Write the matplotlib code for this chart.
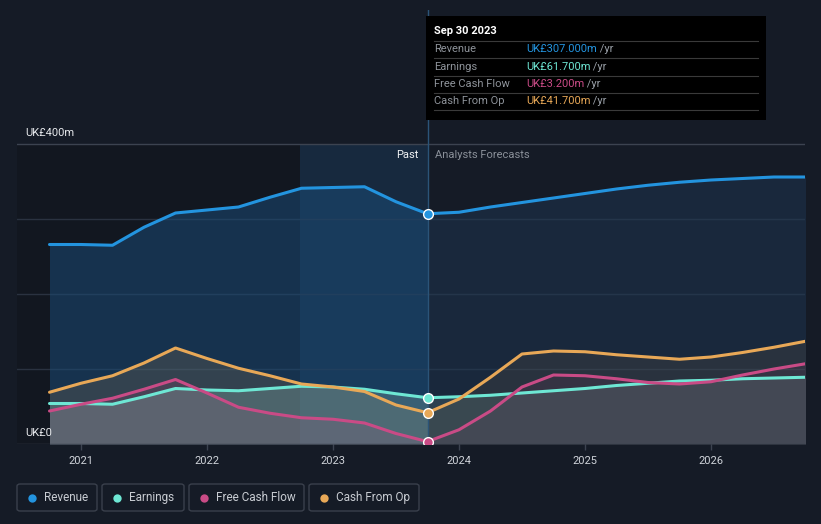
import matplotlib.pyplot as plt
from matplotlib.patches import FancyBboxPatch, Rectangle
from matplotlib.lines import Line2D
from matplotlib.text import Annotation

plt.rcParams['font.family'] = ['Roboto', 'DejaVu Sans']

# dados (UK£ m, anos decimais)
anos_passado = [2020.75, 2021.0, 2021.25, 2021.5, 2021.75, 2022.0, 2022.25,
                2022.5, 2022.75, 2023.0, 2023.25, 2023.5, 2023.75]
anos_previsao = [2023.75, 2024.0, 2024.25, 2024.5, 2024.75, 2025.0, 2025.25,
                 2025.5, 2025.75, 2026.0, 2026.25, 2026.5, 2026.75]

receita_passado = [266, 266, 265, 289, 308, 312, 316, 329, 341, 342, 343, 323, 307]
receita_previsao = [307, 309, 316, 322, 328, 334, 340, 345, 349, 352, 354, 356, 356]

lucro_passado = [54, 54, 53, 63, 74, 72, 71, 74, 77, 76, 73, 67, 61.7]
lucro_previsao = [61.7, 63, 65, 68, 71, 74, 78, 81, 84, 85, 87, 88, 89]

fcl_passado = [44, 53, 61, 73, 86, 68, 49, 41, 35, 33, 28, 14, 3.2]
fcl_previsao = [3.2, 19, 44, 76, 92, 91, 87, 82, 80, 83, 92, 100, 107]

caixa_passado = [69, 81, 91, 108, 128, 114, 101, 91, 80, 76, 70, 52, 41.7]
caixa_previsao = [41.7, 60, 89, 120, 124, 123, 119, 116, 113, 116, 122, 129, 137]

anos_ticks = [2021, 2022, 2023, 2024, 2025, 2026]
series = ['Revenue', 'Earnings', 'Free Cash Flow', 'Cash From Op']
valores_tooltip = ['UK£307.000m', 'UK£61.700m', 'UK£3.200m', 'UK£41.700m']

cores = {'Revenue': '#2394df', 'Earnings': '#6ee7d4',
         'Free Cash Flow': '#c94b86', 'Cash From Op': '#e8a857'}
fundo = '#151b26'

fig = plt.figure(figsize=(8.21, 5.24), dpi=100, facecolor=fundo)
ax = fig.add_axes([17/821, 80/524, 788/821, 434/524])
ax.set_facecolor(fundo)
ax.set_xlim(2020.492, 2026.746)
ytopo = 434/0.75
ax.set_ylim(0, ytopo)
for s in ax.spines.values():
    s.set_visible(False)

# faixas de fundo (só até a linha de 400)
ax.axvspan(2020.492, 2022.74, ymax=400/ytopo, color='black', alpha=0.14, lw=0, zorder=0)
ax.axvspan(2022.74, 2023.75, ymax=400/ytopo, color='#1f5f95', alpha=0.22, lw=0, zorder=0)

# linhas de grade
for v in [100, 200, 300]:
    ax.axhline(v, color='#2a3240', lw=1, zorder=1)
ax.axhline(400, color='#3c4350', lw=1, zorder=1)
ax.axhline(0, color='#3c4350', lw=1, zorder=6)

# receita
ax.fill_between(anos_passado, receita_passado, 0, color='#1a4a75', alpha=0.55, lw=0, zorder=2)
ax.fill_between(anos_previsao, receita_previsao, 0, color='#1e3a58', alpha=0.45, lw=0, zorder=2)

# áreas das outras séries
pares = [('Cash From Op', caixa_passado, caixa_previsao),
         ('Earnings', lucro_passado, lucro_previsao),
         ('Free Cash Flow', fcl_passado, fcl_previsao)]
for nome, p, f in pares:
    ax.fill_between(anos_passado, p, 0, color=cores[nome], alpha=0.14, lw=0, zorder=3)
    ax.fill_between(anos_previsao, f, 0, color=cores[nome], alpha=0.08, lw=0, zorder=3)
ax.fill_between(anos_passado, lucro_passado, 0, color='#9a9a9a', alpha=0.18, lw=0, zorder=3)
ax.fill_between(anos_previsao, lucro_previsao, 0, color='#8a8a8a', alpha=0.12, lw=0, zorder=3)

linhas = [('Revenue', receita_passado, receita_previsao),
          ('Earnings', lucro_passado, lucro_previsao),
          ('Cash From Op', caixa_passado, caixa_previsao),
          ('Free Cash Flow', fcl_passado, fcl_previsao)]
for nome, p, f in linhas:
    ax.plot(anos_passado, p, color=cores[nome], lw=2.2, zorder=5, solid_capstyle='round')
    ax.plot(anos_previsao, f, color=cores[nome], lw=2.2, zorder=5, solid_capstyle='round')
    ax.plot([anos_passado[-1]], [p[-1]], 'o', ms=7, mfc=cores[nome], mec='white',
            mew=1, zorder=7)

# linha vertical do ponto atual
ax.axvline(2023.75, color='#2b5478', lw=1, zorder=4)

# eixos
ax.set_yticks([])
ax.set_xticks(anos_ticks)
ax.set_xticklabels([str(a) for a in anos_ticks])
ax.tick_params(axis='x', colors='#3c4350', length=4, width=1, pad=5,
               labelcolor='#d0d4da', labelsize=8)

ax.text(2020.56, 408, 'UK£400m', color='#e8eaed', fontsize=8, va='bottom')
ax.text(2020.56, 8, 'UK£0', color='#e8eaed', fontsize=8, va='bottom')
ax.text(2023.68, 385, 'Past', color='#f0f2f4', fontsize=8, ha='right', va='center')
ax.text(2023.81, 385, 'Analysts Forecasts', color='#8a9099', fontsize=8, ha='left', va='center')

# tooltip
fig.patches.append(Rectangle((426/821, (524-120)/524), 340/821, 104/524,
                             transform=fig.transFigure, facecolor='black',
                             edgecolor='none', zorder=10))
fig.text(434/821, 1-31/524, 'Sep 30 2023', color='white', fontsize=8,
         fontweight='bold', va='center', zorder=11)
for i, (nome, val) in enumerate(zip(series, valores_tooltip)):
    y = 1 - (49 + i*17.5)/524
    fig.text(434/821, y, nome, color='#8e939a', fontsize=8, va='center', zorder=11)
    t = fig.text(526/821, y, val, color=cores[nome], fontsize=8, va='center', zorder=11)
    a = Annotation(' /yr', xy=(1, 0.5), xycoords=t, color='#9aa0a8', fontsize=8,
                   va='center', ha='left', annotation_clip=False)
    a.set_zorder(11)
    fig.add_artist(a)
for yy in [41, 58, 76, 93, 110]:
    fig.add_artist(Line2D([434/821, 758/821], [1-yy/524, 1-yy/524], color='#3a3a3a',
                          lw=0.8, zorder=11))

# legenda
caixas = [(17, 97), (102, 184), (189, 304), (309, 419)]
for (x0, x1), nome in zip(caixas, series):
    fig.patches.append(FancyBboxPatch((x0/821, (524-511)/524), (x1-x0)/821, 27/524,
                                      boxstyle='round,pad=0,rounding_size=0.004',
                                      transform=fig.transFigure, facecolor='none',
                                      edgecolor='#3a404c', lw=1))
    fig.add_artist(Line2D([(x0+15)/821], [1-497.5/524], marker='o', ms=6,
                          mfc=cores[nome], mec='none', ls='none'))
    fig.text((x0+27)/821, 1-497.5/524, nome, color='#c8ccd2', fontsize=8.5, va='center')

plt.savefig('out.png', dpi=100, facecolor=fundo)
